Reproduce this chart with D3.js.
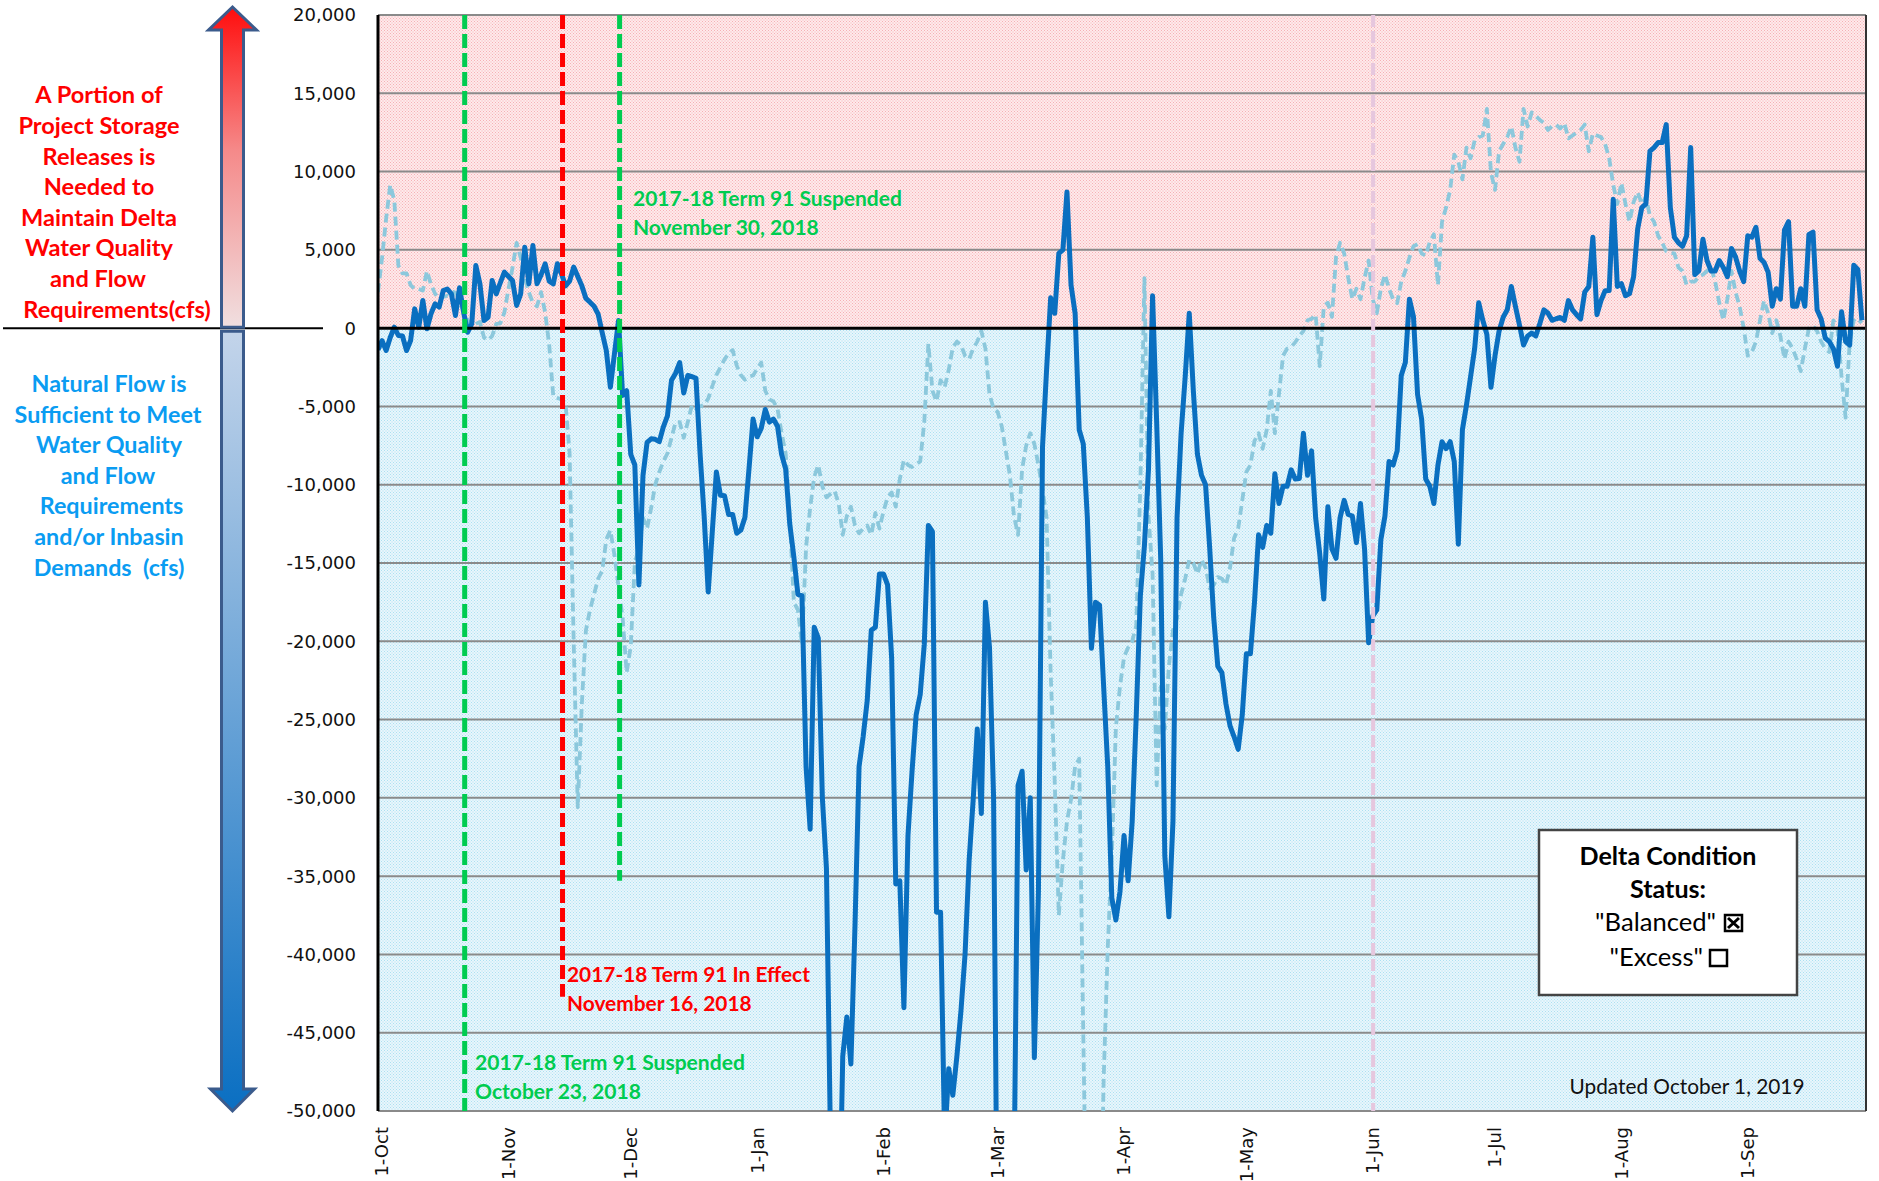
<!DOCTYPE html>
<html><head><meta charset="utf-8">
<script src="https://cdn.jsdelivr.net/npm/d3@7"></script>
<style>body{margin:0;background:#fff}svg{display:block}</style>
</head><body>
<svg id="chart" width="1879" height="1181"></svg>
<script>
// ---------------- DATA ----------------
const seriesStart = "2018-10-01";   // first day of both daily series
const axisEnd = "2019-10-01";
// Daily Delta balance 2018-19 (cfs), solid dark blue
const balance2018_19 = [
-1380,-800,-1430,-600,60,-470,-500,-1430,-790,1230,
60,1770,-40,920,1550,1340,2400,2500,2190,810,
2580,1020,-260,280,4000,2830,490,700,3040,2190,
2900,3580,3300,3040,1450,2190,5170,2830,5280,2830,
3400,4110,3000,2830,4110,3470,2700,3000,3900,3300,
2700,1900,1660,1400,900,-300,-1430,-3770,-1640,490,
-4300,-4000,-8060,-8740,-16400,-9400,-7300,-7070,-7100,-7250,
-6300,-5600,-3330,-2880,-2200,-4140,-3020,-3100,-3200,-8000,
-12000,-16850,-13000,-9190,-10680,-10700,-11900,-11900,-13100,-12900,
-12100,-9000,-5810,-6940,-6400,-5200,-6000,-5810,-6260,-8060,
-9000,-12500,-14600,-17000,-17100,-28000,-32000,-19100,-19800,-30000,
-34500,-52000,-65000,-60000,-46500,-44000,-47000,-38200,-28000,-26100,
-23800,-19300,-19100,-15700,-15700,-16400,-21100,-35500,-35300,-43400,
-32400,-28300,-24700,-23400,-20200,-12600,-13000,-37300,-37300,-52000,
-47300,-49000,-46500,-43600,-40000,-34000,-30100,-25600,-31000,-17500,
-20400,-30000,-62000,-65000,-65000,-62000,-55000,-29200,-28300,-34600,
-30000,-46600,-36000,-7600,-2660,1940,950,4770,5000,8700,
2750,950,-6490,-7390,-12100,-20450,-17500,-17700,-22900,-28000,
-36400,-37800,-36000,-32400,-35300,-31500,-24700,-17100,-13900,-9000,
2070,-6000,-14800,-33700,-37600,-31500,-12100,-6710,-3110,950,
-4000,-8060,-9400,-10000,-14000,-18500,-21600,-22000,-24000,-25400,
-26100,-26900,-24700,-20800,-20800,-17500,-13200,-14000,-12600,-13100,
-9300,-11200,-10100,-10100,-9050,-9640,-9600,-6710,-9400,-7840,
-12100,-14400,-17300,-11400,-14100,-14700,-12100,-11000,-11900,-12000,
-13700,-11200,-14100,-20100,-18400,-18000,-13500,-12000,-8510,-8740,
-7840,-3020,-2200,1850,720,-4230,-5810,-9640,-10100,-11200,
-8740,-7250,-7700,-7250,-8510,-13800,-6490,-4910,-3110,-1310,
1620,500,-400,-3780,-1760,-180,700,1170,2660,1400,
200,-1080,-500,-320,-500,300,1170,950,500,600,
680,500,1760,1170,860,590,2300,2660,5810,860,
1760,2390,2400,8240,2660,2840,2070,2210,3290,6350,
7700,7930,11300,11530,11850,11850,13000,7700,5810,5450,
5230,5900,11530,3420,3650,5680,4320,3650,3650,4320,
3870,3290,5090,4550,3650,2970,5900,5810,6440,4460,
4190,3560,1400,2520,1850,6260,6800,1400,1400,2520,
1400,5990,6130,1170,590,-630,-860,-1310,-2430,1040,
-860,-1080,4010,3740,500
];
// Daily Delta balance 2017-18 (cfs), dashed light blue
const balance2017_18 = [
2300,4500,7000,9140,8150,4000,3500,3500,2750,2500,
2500,2400,3650,2800,2200,1850,2000,2070,1850,2500,
1600,1100,500,130,270,400,-600,-770,-500,270,
300,1000,2500,3870,5450,4500,3200,2300,1600,1400,
2300,1000,-1080,-4370,-4460,-4550,-4800,-8000,-20000,-30600,
-24000,-19300,-18000,-17000,-16000,-15500,-13500,-12900,-14500,-16500,
-18500,-22000,-20300,-15000,-14000,-12100,-12800,-11500,-10000,-9190,
-8510,-8000,-7000,-6000,-6000,-7000,-6000,-4910,-5140,-5000,
-4910,-4500,-3700,-3000,-2500,-2000,-1600,-1400,-2400,-3000,
-3300,-3100,-3020,-2600,-2200,-4000,-4550,-4680,-5140,-6710,
-8000,-12000,-17500,-18000,-20200,-14000,-11500,-9500,-8740,-10100,
-10800,-10600,-10400,-11200,-13200,-12000,-11400,-12600,-13100,-12800,
-12600,-13200,-11800,-12800,-11700,-10800,-10500,-11400,-9640,-8420,
-8740,-8870,-8700,-8510,-6000,-1000,-4000,-4680,-3330,-3780,
-2660,-1220,-860,-1080,-1760,-1980,-1300,-860,-180,-1310,
-4230,-5140,-5360,-6260,-7840,-9410,-12000,-13200,-9000,-7500,
-6710,-7390,-8740,-10300,-12100,-22000,-29000,-37500,-34000,-31500,
-30100,-28000,-27500,-45000,-62000,-65000,-65000,-62000,-48000,-39600,
-33700,-25500,-22900,-21000,-20400,-20000,-19000,-10000,3200,-12000,
-15700,-29200,-22900,-25600,-21600,-19300,-18500,-17000,-16000,-14800,
-15000,-15700,-14800,-15300,-16600,-16400,-15900,-16000,-16400,-15300,
-13400,-12800,-11000,-9190,-8740,-7200,-6710,-7700,-6490,-4000,
-6710,-4230,-1760,-1310,-1200,-900,-500,-180,500,590,
860,-2430,1400,1620,720,4550,5450,4770,3200,1850,
2520,1850,3200,4320,1850,950,2520,3420,2520,1850,
1600,2970,3650,4500,5230,5360,4770,4640,5500,5990,
2750,6800,7700,8830,11080,10630,9500,11530,10850,11980,
12200,12300,14000,9950,8830,11300,11760,12200,12880,11530,
10630,14000,12880,13780,13560,13300,13100,12660,12900,13000,
12750,13100,12120,12300,12500,12660,13000,11300,12430,12300,
12200,11760,10860,9140,7930,9280,7930,6800,8060,8690,
7930,8380,7160,6800,5900,5450,4910,4800,4770,3870,
3650,2750,2970,2970,3290,3420,3650,3870,2970,1620,
500,1850,3650,2300,1400,0,-1760,-1530,-860,500,
1760,950,-320,500,-500,-1980,-860,-1310,-1980,-2750,
-1310,0,130,-180,-860,-1310,-1530,500,0,-3110,
-5720,-860,500,270,500
];
const yTickValues = [20000,15000,10000,5000,0,-5000,-10000,-15000,-20000,-25000,-30000,-35000,-40000,-45000,-50000];
const xTickDates = ["2018-10-01","2018-11-01","2018-12-01","2019-01-01","2019-02-01","2019-03-01","2019-04-01","2019-05-01","2019-06-01","2019-07-01","2019-08-01","2019-09-01"];
const eventDates = ["2018-10-23","2018-11-16","2018-11-30","2019-06-01"];
const eventLabels = [["2017-18 Term 91 Suspended","October 23, 2018"],["2017-18 Term 91 In Effect","November 16, 2018"],["2017-18 Term 91 Suspended","November 30, 2018"],[]];
const eventLineEnd = [-50000,-42700,-35300,-50000];
const redNote = ["A Portion of","Project Storage","Releases is","Needed to","Maintain Delta","Water Quality","and Flow","Requirements(cfs)"];
const blueNote = ["Natural Flow is","Sufficient to Meet","Water Quality","and Flow","Requirements","and/or Inbasin","Demands  (cfs)"];
const legendTitle = ["Delta Condition","Status:"];
const legendItems = [["\"Balanced\"", true],["\"Excess\"", false]];
const updatedNote = "Updated October 1, 2019";

// ---------------- CHART ----------------
const svg = d3.select("#chart");
const P = {l:378, r:1866, t:15, b:1111};
const parse = s => new Date(s + "T00:00:00Z");
const t0 = parse(seriesStart);
const dayMs = 864e5;
const x = d3.scaleUtc().domain([t0, parse(axisEnd)]).range([P.l, P.r]);
const y = d3.scaleLinear().domain([-50000, 20000]).range([P.b, P.t]);
const CAL = "Lato, 'Open Sans', sans-serif";
const VER = "'DejaVu Sans', Verdana, sans-serif";

const defs = svg.append("defs");
function dotPattern(id, base, dot){
  const p = defs.append("pattern").attr("id",id).attr("width",3).attr("height",3).attr("patternUnits","userSpaceOnUse");
  p.append("rect").attr("width",3).attr("height",3).attr("fill",base);
  p.append("rect").attr("x",0).attr("y",0).attr("width",1).attr("height",1).attr("fill",dot);
  p.append("rect").attr("x",1.5).attr("y",1.5).attr("width",1).attr("height",1).attr("fill",dot);
}
dotPattern("pinkDots","#feeaeb","#f6b0b5");
dotPattern("blueDots","#e8f6fc","#ace0f1");
defs.append("clipPath").attr("id","plotClip").append("rect")
  .attr("x",P.l).attr("y",P.t).attr("width",P.r-P.l).attr("height",P.b-P.t);
const gUp = defs.append("linearGradient").attr("id","gUp").attr("x1",0).attr("y1",0).attr("x2",0).attr("y2",1);
gUp.append("stop").attr("offset","0").attr("stop-color","#ff0d0d");
gUp.append("stop").attr("offset","0.45").attr("stop-color","#f58a8a");
gUp.append("stop").attr("offset","1").attr("stop-color","#f0dfe0");
const gDn = defs.append("linearGradient").attr("id","gDn").attr("x1",0).attr("y1",0).attr("x2",0).attr("y2",1);
gDn.append("stop").attr("offset","0").attr("stop-color","#c3d4ea");
gDn.append("stop").attr("offset","1").attr("stop-color","#0a6fc2");

// backgrounds
svg.append("rect").attr("x",P.l).attr("y",y(20000)).attr("width",P.r-P.l).attr("height",y(0)-y(20000)).attr("fill","url(#pinkDots)");
svg.append("rect").attr("x",P.l).attr("y",y(0)).attr("width",P.r-P.l).attr("height",y(-50000)-y(0)).attr("fill","url(#blueDots)");

// gridlines
svg.append("g").selectAll("line").data(yTickValues.filter(v=>v!==0)).join("line")
  .attr("x1",P.l).attr("x2",P.r).attr("y1",d=>y(d)).attr("y2",d=>y(d))
  .attr("stroke","#8a8a8a").attr("stroke-width",2);

// y labels
const fmt = v => d3.format(",")(v).replace("\u2212","-");
svg.append("g").selectAll("text").data(yTickValues).join("text")
  .attr("x",356).attr("y",d=>y(d)).attr("dy","0.36em").attr("text-anchor","end")
  .attr("font-family",VER).attr("font-size",18).attr("fill","#111").text(fmt);

// x labels
const xfmt = d3.utcFormat("%-d-%b");
svg.append("g").selectAll("text").data(xTickDates.map(parse)).join("text")
  .attr("transform",d=>`translate(${x(d)+4},1127) rotate(-90)`)
  .attr("dy","0.36em").attr("text-anchor","end")
  .attr("font-family",VER).attr("font-size",18).attr("fill","#111").text(xfmt);

// lines
const plot = svg.append("g").attr("clip-path","url(#plotClip)");
const toPts = arr => arr.map((v,i)=>({d:new Date(t0.getTime()+i*dayMs), v}));
const line = d3.line().x(p=>x(p.d)).y(p=>y(p.v));
plot.append("path").datum(toPts(balance2017_18)).attr("d",line).attr("fill","none")
  .attr("stroke","#8cc8dc").attr("stroke-width",3.8).attr("stroke-dasharray","9,5").attr("stroke-linejoin","round");
plot.append("path").datum(toPts(balance2018_19)).attr("d",line).attr("fill","none")
  .attr("stroke","#0a6fc0").attr("stroke-width",5).attr("stroke-linejoin","round");

// zero line
svg.append("line").attr("x1",P.l).attr("x2",P.r).attr("y1",y(0)).attr("y2",y(0)).attr("stroke","#000").attr("stroke-width",3);
// left axis + right border
svg.append("line").attr("x1",P.l).attr("x2",P.l).attr("y1",P.t).attr("y2",P.b).attr("stroke","#000").attr("stroke-width",3);
svg.append("line").attr("x1",P.r).attr("x2",P.r).attr("y1",P.t).attr("y2",P.b).attr("stroke","#333").attr("stroke-width",2);

// event lines (hand-drawn in the original, slightly off the date positions)
const evColor = ["#00cc50","#ff0000","#00cc50","#e6c7de"];
const evWidth = [5,5,5,4];
const evDash = ["14,5","14,5","14,5","12,4"];
const evNudge = [-3,-3,-3,4.5];
eventDates.forEach((ds,i)=>{
  const xx = x(parse(ds)) + evNudge[i];
  svg.append("line").attr("x1",xx).attr("x2",xx).attr("y1",P.t).attr("y2",y(eventLineEnd[i]))
    .attr("stroke",evColor[i]).attr("stroke-width",evWidth[i]).attr("stroke-dasharray",evDash[i]);
});
function fit(sel, w){ const n=sel.node(); const cw=n.getComputedTextLength(); sel.attr("font-size", parseFloat(sel.attr("font-size"))*w/cw); return parseFloat(sel.attr("font-size")); }
function noteBlock(lines, x0, y0, color, refW){
  const g = svg.append("g").attr("font-family",CAL).attr("font-weight",700).attr("fill",color);
  const t0 = g.append("text").attr("x",x0).attr("y",y0).attr("font-size",21).text(lines[0]);
  const fs = fit(t0, refW);
  g.append("text").attr("x",x0).attr("y",y0+29).attr("font-size",fs).text(lines[1]);
}
noteBlock(eventLabels[2], 633, 206, "#00cc50", 269);
noteBlock(eventLabels[1], 567, 982, "#ff0000", 243);
noteBlock(eventLabels[0], 475, 1070, "#00cc50", 270);

// left side labels
svg.append("line").attr("x1",3).attr("x2",323).attr("y1",y(0)).attr("y2",y(0)).attr("stroke","#000").attr("stroke-width",2);
const redX = [99,99,99,99,99,99,98,117];
const rg = svg.append("g").attr("font-family",CAL).attr("font-weight",700).attr("fill","#ff0000").attr("text-anchor","middle");
const rref = rg.append("text").attr("x",-999).attr("y",-99).attr("font-size",23).text(redNote[4]);
const rfs = fit(rref,156); rref.remove();
redNote.forEach((s,i)=> rg.append("text").attr("x",redX[i]).attr("y",103.3+i*30.6).attr("font-size",rfs).text(s));
const blueX = [109,108,109,108,111.5,109,109];
const bg = svg.append("g").attr("font-family",CAL).attr("font-weight",700).attr("fill","#0a9cf2").attr("text-anchor","middle").style("white-space","pre");
const bref = bg.append("text").attr("x",-999).attr("y",-99).attr("font-size",23).text(blueNote[1]);
const bfs = fit(bref,187); bref.remove();
blueNote.forEach((s,i)=> bg.append("text").attr("x",blueX[i]).attr("y",392+i*30.6).attr("font-size",bfs).attr("xml:space","preserve").text(s));

// arrows
const cx = 232.5;
svg.append("polygon").attr("points",[[cx,y(20000)-8],[cx+24,30],[cx+11,30],[cx+11,y(0)-1],[cx-11,y(0)-1],[cx-11,30],[cx-24,30]].join(" "))
  .attr("fill","url(#gUp)").attr("stroke","#3b5b8c").attr("stroke-width",3).attr("stroke-linejoin","miter");
svg.append("polygon").attr("points",[[cx-11,y(0)+3],[cx+11,y(0)+3],[cx+11,1089],[cx+22,1089],[cx,y(-50000)],[cx-22,1089],[cx-11,1089]].join(" "))
  .attr("fill","url(#gDn)").attr("stroke","#3b5b8c").attr("stroke-width",3).attr("stroke-linejoin","miter");

// legend box
svg.append("rect").attr("x",1539).attr("y",830).attr("width",258).attr("height",165)
  .attr("fill","#fff").attr("stroke","#444").attr("stroke-width",2.5);
const lg = svg.append("g").attr("font-family",CAL).attr("fill","#000");
const lt = lg.append("text").attr("x",1668).attr("y",865).attr("text-anchor","middle").attr("font-weight",700).attr("font-size",23).text(legendTitle[0]);
const lfs = fit(lt,177);
lg.append("text").attr("x",1668).attr("y",898).attr("text-anchor","middle").attr("font-weight",700).attr("font-size",lfs).text(legendTitle[1]);
const itemEnd = [1716,1703], boxX=[1725,1710], baseY=[931,966];
legendItems.forEach(([s,checked],i)=>{
  lg.append("text").attr("x",itemEnd[i]).attr("y",baseY[i]).attr("text-anchor","end").attr("font-size",lfs*1.02).text(s);
  const bx=boxX[i], by=baseY[i]-16;
  lg.append("rect").attr("x",bx).attr("y",by).attr("width",17).attr("height",16).attr("fill","#fff").attr("stroke","#000").attr("stroke-width",2.5);
  if(checked){
    lg.append("path").attr("d",`M${bx+3},${by+3}L${bx+14},${by+13}M${bx+14},${by+3}L${bx+3},${by+13}`).attr("stroke","#000").attr("stroke-width",3);
  }
});
const up = svg.append("text").attr("x",1687).attr("y",1094).attr("text-anchor","middle").attr("font-family",CAL).attr("font-size",21).attr("fill","#111").text(updatedNote);
fit(up,235);
</script>
</body></html>
